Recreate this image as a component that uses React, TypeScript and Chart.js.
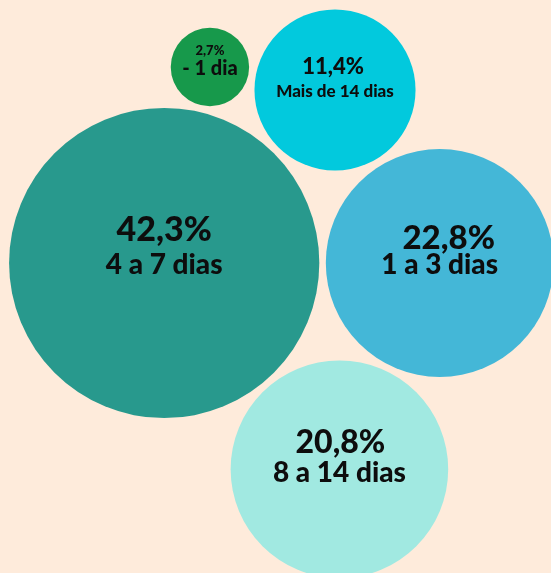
import React, { useEffect, useRef } from "react";
import { Chart, registerables } from "chart.js";

Chart.register(...registerables);

// ---- data ----
const categories = ["- 1 dia", "Mais de 14 dias", "4 a 7 dias", "1 a 3 dias", "8 a 14 dias"];
const shares = [2.7, 11.4, 42.3, 22.8, 20.8];
const percentLabels = ["2,7%", "11,4%", "42,3%", "22,8%", "20,8%"];
// bubble centres in a 0–100 layout space (x to the right, y upwards)
const xValues = [38.1, 60.8, 29.8, 79.8, 61.6];
const yValues = [88.3, 84.3, 54.1, 54.1, 18.1];

// ---- styles ----
const colors = ["#17994b", "#02c9dd", "#28998d", "#44b7d7", "#a1e9e1"];
const bgColor = "#feebdb";
const pxPerSqrtPct = 23.85;
const pctFont = [13, 22, 34, 33, 32];
const catFont = [20, 17, 28, 28, 28];
const pctDy = [-12, -16, -22, -14.5, -16.5];
const catDy = [8, 7, 11, 11, 12.5];
const pctDx = [0, -2, 0, 9, 1];
const catDx = [0, 0, 0, 0, 0];
const FONT = "Lato, 'Open Sans', sans-serif";
const WEIGHT = 900;

const labelPlugin = {
  id: "bubbleLabels",
  afterDatasetsDraw(chart: any) {
    const ctx = chart.ctx;
    const meta = chart.getDatasetMeta(0);
    ctx.save();
    ctx.fillStyle = "#0d0d0d";
    ctx.textAlign = "center";
    ctx.textBaseline = "alphabetic";
    meta.data.forEach((el: any, i: number) => {
      ctx.font = `${WEIGHT} ${pctFont[i]}px ${FONT}`;
      ctx.fillText(percentLabels[i], el.x + pctDx[i], el.y + pctDy[i]);
      ctx.font = `${WEIGHT} ${catFont[i]}px ${FONT}`;
      ctx.fillText(categories[i], el.x + catDx[i], el.y + catDy[i]);
    });
    ctx.restore();
  },
};

export default function App() {
  const ref = useRef<HTMLCanvasElement | null>(null);

  useEffect(() => {
    if (!ref.current) return;
    const chart = new Chart(ref.current, {
      type: "bubble",
      data: {
        datasets: [
          {
            data: shares.map((v, i) => ({ x: xValues[i], y: yValues[i], r: Math.sqrt(v) * pxPerSqrtPct })),
            backgroundColor: colors,
            borderWidth: 0,
            hoverBorderWidth: 0,
            clip: false as any,
          },
        ],
      },
      options: {
        responsive: false,
        animation: false,
        events: [],
        layout: { padding: 0, autoPadding: false } as any,
        scales: {
          x: { type: "linear", min: 0, max: 100, display: false },
          y: { type: "linear", min: 0, max: 100, display: false },
        },
        plugins: { legend: { display: false }, tooltip: { enabled: false } },
      },
      plugins: [labelPlugin],
    });
    return () => chart.destroy();
  }, []);

  return (
    <div style={{ position: "fixed", left: 0, top: 0, width: 551, height: 573, background: bgColor, overflow: "hidden" }}>
      <canvas ref={ref} width={551} height={573} style={{ display: "block", width: 551, height: 573 }} />
    </div>
  );
}
